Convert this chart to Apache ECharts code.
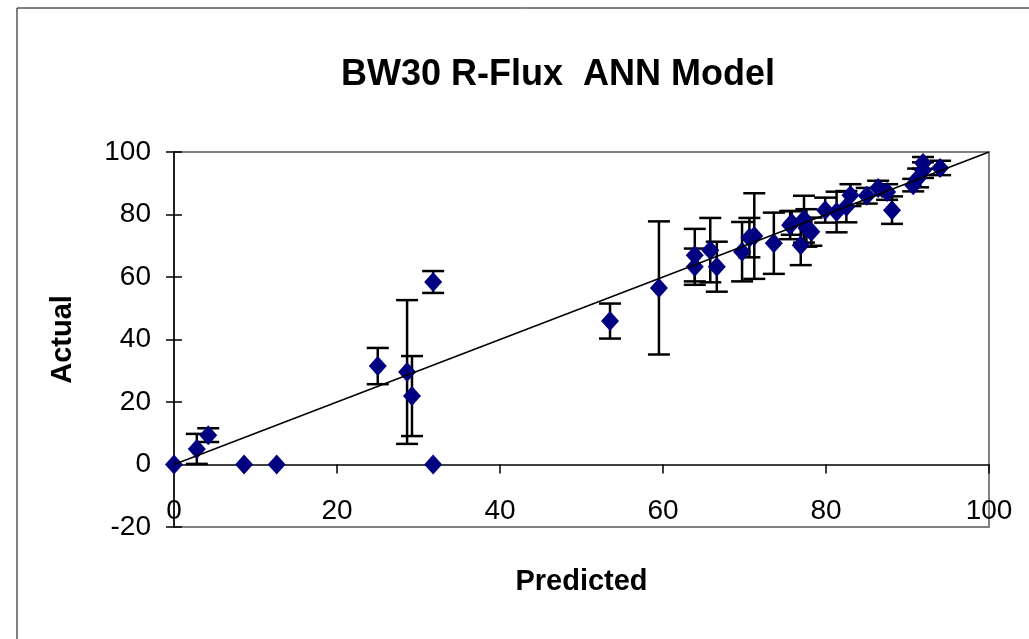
<!DOCTYPE html>
<html>
<head>
<meta charset="utf-8">
<style>
  html, body { margin: 0; padding: 0; background: #fff; }
  #chart { width: 1029px; height: 639px; }
</style>
<script src="https://cdn.jsdelivr.net/npm/echarts@6/dist/echarts.min.js"></script>
</head>
<body>
<div id="chart"></div>
<script>
// values
var predicted = [0, 2.8, 4.2, 8.6, 12.6, 25.0, 28.6, 29.2, 31.8, 31.8,
    53.5, 59.5, 63.9, 63.9, 65.8, 66.6, 69.7, 70.6, 71.2, 73.6,
    75.6, 75.8, 76.9, 77.3, 77.6, 78.2, 79.9, 81.3, 82.5, 83.0,
    85.0, 86.4, 87.5, 88.1, 90.7, 91.3, 91.9, 91.9, 94.0];
var actual = [0, 5.0, 9.4, 0, 0, 31.5, 29.6, 21.9, 58.4, 0,
    45.9, 56.5, 67.0, 63.3, 68.6, 63.3, 68.1, 72.6, 73.1, 70.8,
    76.6, 77.3, 70.2, 78.5, 75.7, 74.5, 81.4, 80.8, 82.5, 86.2,
    86.0, 88.5, 87.2, 81.4, 89.4, 91.7, 94.2, 96.5, 94.9];
var errors = [0, 4.8, 2.2, 0, 0, 5.8, 23, 12.8, 3.5, 0,
    5.6, 21.3, 8.4, 5.8, 10.3, 8, 9.5, 6.3, 13.7, 9.8,
    4.5, 3.8, 6.4, 7.5, 6, 4.5, 4, 6.5, 5, 3.5,
    2.5, 2.3, 2.5, 4.4, 2, 3, 2.5, 1.9, 2.3];
var fitLine = [[0, 0], [100, 100]];
var xTicks = {min: 0, max: 100, interval: 20};
var yTicks = {min: -20, max: 100, interval: 20};

var chart = echarts.init(document.getElementById("chart"));
var font = "Liberation Sans, Arial, sans-serif";

var points = predicted.map((p, i) => [p, actual[i]]);
var bars = predicted
    .map((p, i) => [p, actual[i], actual[i] - errors[i], actual[i] + errors[i]])
    .filter((d, i) => errors[i] > 0);

function renderErrorBar(params, api) {
    var x = api.value(0);
    var top = api.coord([x, api.value(3)]);
    var bot = api.coord([x, api.value(2)]);
    var w = 11;
    var st = {stroke: "#000", lineWidth: 2.5};
    return {
        type: "group",
        children: [
            {type: "line", shape: {x1: top[0], y1: top[1], x2: bot[0], y2: bot[1]}, style: st},
            {type: "line", shape: {x1: top[0] - w, y1: top[1], x2: top[0] + w, y2: top[1]}, style: st},
            {type: "line", shape: {x1: bot[0] - w, y1: bot[1], x2: bot[0] + w, y2: bot[1]}, style: st}
        ]
    };
}

var tickLabel = {color: "#000", fontSize: 28, fontFamily: font};
var axisTitle = {color: "#000", fontSize: 29, fontWeight: "bold", fontFamily: font};

var option = {
    animation: false,
    backgroundColor: "#fff",
    title: {
        text: "BW30 R-Flux  ANN Model",
        left: 553,
        top: 52,
        textAlign: "center",
        textStyle: {color: "#000", fontSize: 36, fontWeight: "bold", fontFamily: font}
    },
    graphic: [{
        type: "rect",
        shape: {x: 17, y: 8, width: 1020, height: 640},
        style: {fill: "none", stroke: "#000", lineWidth: 1},
        silent: true
    }],
    grid: {
        left: 174, top: 152, right: 40, bottom: 112,
        outerBoundsMode: "none",
        containLabel: false,
        show: true, borderColor: "#808080", borderWidth: 2,
        backgroundColor: "#fff"
    },
    xAxis: [
        {
            // axis line at y = 0 with the ticks
            type: "value", min: xTicks.min, max: xTicks.max, interval: xTicks.interval,
            axisLine: {onZero: true, lineStyle: {color: "#000", width: 1.5}},
            axisTick: {length: 9, lineStyle: {color: "#000", width: 1.5}},
            axisLabel: {show: false},
            splitLine: {show: false}
        },
        {
            type: "value", min: xTicks.min, max: xTicks.max, interval: xTicks.interval,
            axisLine: {show: false, onZero: true},
            axisTick: {inside: true, length: 7, lineStyle: {color: "#000", width: 1.5}},
            axisLabel: {show: false},
            splitLine: {show: false}
        },
        {
            // labels + name at the bottom edge
            type: "value", min: xTicks.min, max: xTicks.max, interval: xTicks.interval,
            position: "bottom",
            name: "Predicted", nameLocation: "middle", nameGap: 40,
            nameMoveOverlap: false,
            nameTextStyle: axisTitle,
            axisLine: {show: false, onZero: false},
            axisTick: {show: false},
            axisLabel: Object.assign({margin: -30}, tickLabel),
            splitLine: {show: false}
        }
    ],
    yAxis: [
        {
            type: "value", min: yTicks.min, max: yTicks.max, interval: yTicks.interval,
            name: "Actual", nameLocation: "middle", nameGap: 97, nameRotate: 90,
            nameTextStyle: axisTitle,
            axisLine: {show: true, onZero: false, lineStyle: {color: "#000", width: 1.5}},
            axisTick: {length: 8, lineStyle: {color: "#000", width: 1.5}},
            axisLabel: Object.assign({margin: 23}, tickLabel),
            splitLine: {show: false}
        },
        {
            type: "value", min: yTicks.min, max: yTicks.max, interval: yTicks.interval,
            position: "left",
            axisLine: {show: false, onZero: false},
            axisTick: {show: true, inside: true, length: 8, lineStyle: {color: "#000", width: 1.5}},
            axisLabel: {show: false},
            splitLine: {show: false}
        }
    ],
    series: [
        {
            type: "custom",
            name: "error",
            renderItem: renderErrorBar,
            encode: {x: 0, y: [1, 2, 3]},
            data: bars,
            z: 2,
            silent: true
        },
        {
            type: "scatter",
            name: "data",
            symbol: "diamond",
            symbolSize: [18, 20],
            itemStyle: {color: "#000080", opacity: 1},
            data: points,
            z: 3
        },
        {
            type: "line",
            name: "fit",
            data: fitLine,
            showSymbol: false,
            lineStyle: {color: "#000", width: 1.5},
            z: 4
        }
    ]
};

chart.setOption(option);
</script>
</body>
</html>
